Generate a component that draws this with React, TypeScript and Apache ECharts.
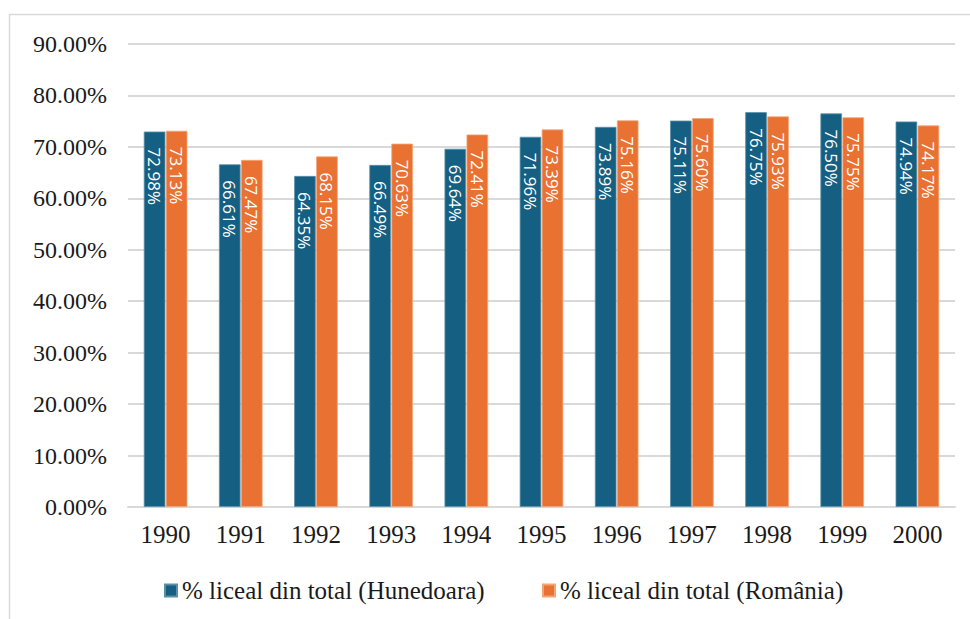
import React, { useEffect, useRef } from "react";
import * as echarts from "echarts";

const years = ["1990", "1991", "1992", "1993", "1994", "1995", "1996", "1997", "1998", "1999", "2000"];
const hunedoara = [72.98, 66.61, 64.35, 66.49, 69.64, 71.96, 73.89, 75.11, 76.75, 76.5, 74.94];
const romania = [73.13, 67.47, 68.15, 70.63, 72.41, 73.39, 75.16, 75.6, 75.93, 75.75, 74.17];
const hunedoaraLabels = ["72.98%", "66.61%", "64.35%", "66.49%", "69.64%", "71.96%", "73.89%", "75.11%", "76.75%", "76.50%", "74.94%"];
const romaniaLabels = ["73.13%", "67.47%", "68.15%", "70.63%", "72.41%", "73.39%", "75.16%", "75.60%", "75.93%", "75.75%", "74.17%"];
const seriesNames = ["% liceal din total (Hunedoara)", "% liceal din total (România)"];

const serif = "'Liberation Serif', 'DejaVu Serif', serif";
const sans = "'Open Sans', 'Noto Sans', sans-serif";

export default function App() {
  const ref = useRef<HTMLDivElement>(null);
  useEffect(() => {
    if (!ref.current) return;
    const chart = echarts.init(ref.current, null, { renderer: "svg" });
    const mkLabel = (labels: string[]) => ({
      show: true,
      position: "insideTop",
      distance: 16,
      rotate: -90,
      align: "left",
      verticalAlign: "middle",
      color: "#ffffff",
      fontFamily: sans,
      fontSize: 17,
      formatter: (p: any) => labels[p.dataIndex],
    });
    const legendText = { fontFamily: serif, fontSize: 25, color: "#1a1a1a" };
    chart.setOption({
      animation: false,
      backgroundColor: "#ffffff",
      graphic: [
        {
          type: "rect",
          shape: { x: 9.5, y: 14.5, width: 1000, height: 700 },
          style: { fill: "none", stroke: "#d9d9d9", lineWidth: 1.5 },
          silent: true,
          z: -10,
        },
      ],
      grid: { left: 128, right: 15, top: 44, bottom: 112, containLabel: false },
      legend: [
        {
          data: [seriesNames[0]],
          left: 159,
          top: 573,
          itemWidth: 12,
          itemHeight: 12,
          icon: "rect",
          textStyle: legendText,
        },
        {
          data: [seriesNames[1]],
          left: 537,
          top: 573,
          itemWidth: 12,
          itemHeight: 12,
          icon: "rect",
          textStyle: legendText,
        },
      ],
      xAxis: {
        type: "category",
        data: years,
        axisTick: { show: false },
        axisLine: { lineStyle: { color: "#d9d9d9", width: 2 } },
        axisLabel: { fontFamily: serif, fontSize: 25, color: "#1a1a1a", margin: 15 },
      },
      yAxis: {
        type: "value",
        min: 0,
        max: 90,
        interval: 10,
        axisLine: { show: false },
        axisTick: { show: false },
        splitLine: { lineStyle: { color: "#d9d9d9", width: 2 } },
        axisLabel: {
          fontFamily: serif,
          fontSize: 24,
          color: "#1a1a1a",
          margin: 21,
          formatter: (v: number) => v.toFixed(2) + "%",
        },
      },
      series: [
        {
          name: seriesNames[0],
          type: "bar",
          data: hunedoara,
          barGap: "2%",
          barCategoryGap: "42%",
          itemStyle: { color: "#156082", borderColor: "#5a8fa8", borderWidth: 0.8 },
          label: mkLabel(hunedoaraLabels),
        },
        {
          name: seriesNames[1],
          type: "bar",
          data: romania,
          itemStyle: { color: "#E97132", borderColor: "#f4a477", borderWidth: 0.8 },
          label: mkLabel(romaniaLabels),
        },
      ],
    });
    return () => chart.dispose();
  }, []);
  return <div ref={ref} style={{ position: "fixed", left: 0, top: 0, width: 970, height: 619 }} />;
}
